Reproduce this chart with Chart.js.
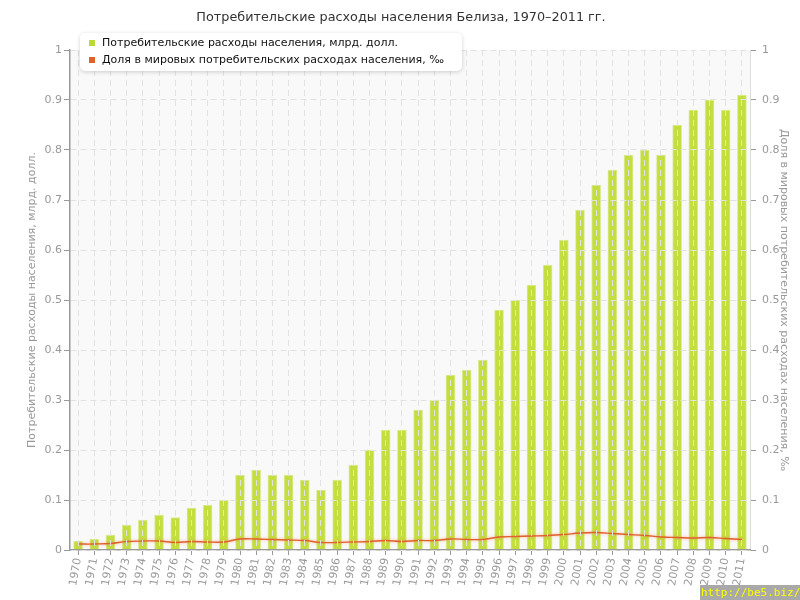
<!DOCTYPE html>
<html>
<head>
<meta charset="utf-8">
<script src="https://cdn.jsdelivr.net/npm/chart.js@4/dist/chart.umd.min.js"></script>
<style>
  html, body { margin: 0; padding: 0; background: #fff; }
  #wrap { width: 800px; height: 600px; }
</style>
</head>
<body>
<div id="wrap"><canvas id="chart" width="800" height="600"></canvas></div>
<script>
const years = ['1970','1971','1972','1973','1974','1975','1976','1977','1978','1979',
               '1980','1981','1982','1983','1984','1985','1986','1987','1988','1989',
               '1990','1991','1992','1993','1994','1995','1996','1997','1998','1999',
               '2000','2001','2002','2003','2004','2005','2006','2007','2008','2009',
               '2010','2011'];

// billion dollars
const spending = [0.018, 0.022, 0.03, 0.05, 0.06, 0.07, 0.065, 0.084, 0.09, 0.10,
                  0.15, 0.16, 0.15, 0.15, 0.14, 0.12, 0.14, 0.17, 0.20, 0.24,
                  0.24, 0.28, 0.30, 0.35, 0.36, 0.38, 0.48, 0.50, 0.53, 0.57,
                  0.62, 0.68, 0.73, 0.76, 0.79, 0.80, 0.79, 0.85, 0.88, 0.90,
                  0.88, 0.91];

// share of world spending, per mille
const share = [0.012, 0.012, 0.013, 0.017, 0.018, 0.018, 0.015, 0.017, 0.016, 0.016,
               0.022, 0.022, 0.021, 0.020, 0.019, 0.015, 0.015, 0.016, 0.017, 0.019,
               0.017, 0.019, 0.019, 0.022, 0.021, 0.021, 0.026, 0.027, 0.028, 0.029,
               0.031, 0.034, 0.035, 0.033, 0.031, 0.029, 0.026, 0.025, 0.024, 0.025,
               0.023, 0.021];

const titleText = 'Потребительские расходы населения Белиза, 1970–2011 гг.';
const seriesNames = ['Потребительские расходы населения, млрд. долл.',
                     'Доля в мировых потребительских расходах населения, ‰'];
const seriesColors = ['#bcd93a', '#e0622a'];

const FONT = '"DejaVu Sans", Verdana, sans-serif';
const gridColor = '#e2e2e2';
const axisGray = '#999';

const fmtTick = (v) => String(Number(v.toFixed(1)));

// background, title, legend box, watermark
const decor = {
    id: 'decor',
    beforeDraw(chart) {
        const {ctx, chartArea: a} = chart;
        ctx.save();
        ctx.fillStyle = '#f9f9f9';
        ctx.fillRect(a.left, a.top, a.right - a.left, a.bottom - a.top);
        ctx.restore();
    },
    beforeDatasetDraw(chart, args) {
        if (args.index === 1) {
            chart.ctx.save();
            chart.ctx.shadowColor = 'rgba(240,140,100,0.7)';
            chart.ctx.shadowBlur = 3;
        }
    },
    afterDatasetDraw(chart, args) {
        if (args.index === 1) chart.ctx.restore();
    },
    afterDraw(chart) {
        const ctx = chart.ctx;
        ctx.save();
        // title
        ctx.fillStyle = '#333';
        ctx.font = '12.8px ' + FONT;
        ctx.textAlign = 'center';
        ctx.textBaseline = 'middle';
        ctx.fillText(titleText, 401, 18);

        // legend box
        ctx.shadowColor = 'rgba(0,0,0,0.18)';
        ctx.shadowBlur = 4;
        ctx.shadowOffsetY = 1;
        ctx.fillStyle = '#fff';
        ctx.beginPath();
        ctx.roundRect(80, 33, 382, 38, 5);
        ctx.fill();
        ctx.shadowColor = 'transparent';
        ctx.font = '11px ' + FONT;
        ctx.textAlign = 'left';
        for (let i = 0; i < seriesNames.length; i++) {
            const y = 43 + i * 17;
            ctx.fillStyle = seriesColors[i];
            ctx.fillRect(89, y - 3, 6, 6);
            ctx.fillStyle = '#111';
            ctx.fillText(seriesNames[i], 102, y);
        }

        // watermark
        ctx.fillStyle = '#a9a9a9';
        ctx.fillRect(700, 585, 100, 15);
        ctx.fillStyle = '#ffff00';
        ctx.font = '11px "DejaVu Sans Mono", monospace';
        ctx.textBaseline = 'middle';
        ctx.fillText('http://be5.biz/', 701, 593);
        ctx.restore();
    }
};

new Chart(document.getElementById('chart'), {
    type: 'bar',
    data: {
        labels: years,
        datasets: [{
            label: seriesNames[0],
            data: spending,
            yAxisID: 'y',
            backgroundColor: '#c3de3e',
            borderColor: '#dcec98',
            borderWidth: 1,
            barThickness: 9,
            order: 2
        }, {
            type: 'line',
            label: seriesNames[1],
            data: share,
            yAxisID: 'y2',
            borderColor: '#e0622a',
            borderWidth: 1.3,
            pointRadius: 0,
            tension: 0.4,
            fill: false,
            order: 1
        }]
    },
    plugins: [decor],
    options: {
        responsive: false,
        animation: false,
        layout: { padding: { top: 50, left: 0, right: 0, bottom: 0 } },
        plugins: {
            legend: { display: false },
            title: { display: false },
            tooltip: { enabled: false }
        },
        scales: {
            x: {
                afterFit: (s) => { s.height = 50; },
                grid: {
                    offset: false,
                    color: gridColor,
                    tickBorderDash: [],
                    tickColor: axisGray,
                    tickLength: 5,
                    z: 1
                },
                border: { color: axisGray, width: 1.5, dash: [6, 4], z: 1 },
                ticks: {
                    autoSkip: false,
                    minRotation: 80,
                    maxRotation: 80,
                    color: axisGray,
                    padding: 2,
                    font: { family: FONT, size: 11 }
                }
            },
            y: {
                position: 'left',
                min: 0,
                max: 1,
                afterFit: (s) => { s.width = 70; },
                grid: {
                    color: gridColor,
                    tickBorderDash: [],
                    tickColor: axisGray,
                    tickLength: 6,
                    z: 1
                },
                border: { color: axisGray, width: 1.5, dash: [6, 4], z: 1 },
                ticks: {
                    stepSize: 0.1,
                    color: axisGray,
                    padding: 2,
                    callback: fmtTick,
                    font: { family: FONT, size: 11 }
                },
                title: {
                    display: true,
                    text: seriesNames[0],
                    color: axisGray,
                    padding: { top: 26, bottom: 0 },
                    font: { family: FONT, size: 11 }
                }
            },
            y2: {
                position: 'right',
                min: 0,
                max: 1,
                afterFit: (s) => { s.width = 50; },
                grid: {
                    drawOnChartArea: false,
                    tickColor: axisGray,
                    tickLength: 6
                },
                border: { color: '#ddd', width: 1 },
                ticks: {
                    stepSize: 0.1,
                    color: axisGray,
                    padding: 6,
                    callback: fmtTick,
                    font: { family: FONT, size: 11 }
                },
                title: {
                    display: true,
                    text: seriesNames[1],
                    color: axisGray,
                    padding: { top: 10, bottom: 0 },
                    font: { family: FONT, size: 11 }
                }
            }
        }
    }
});
</script>
</body>
</html>
